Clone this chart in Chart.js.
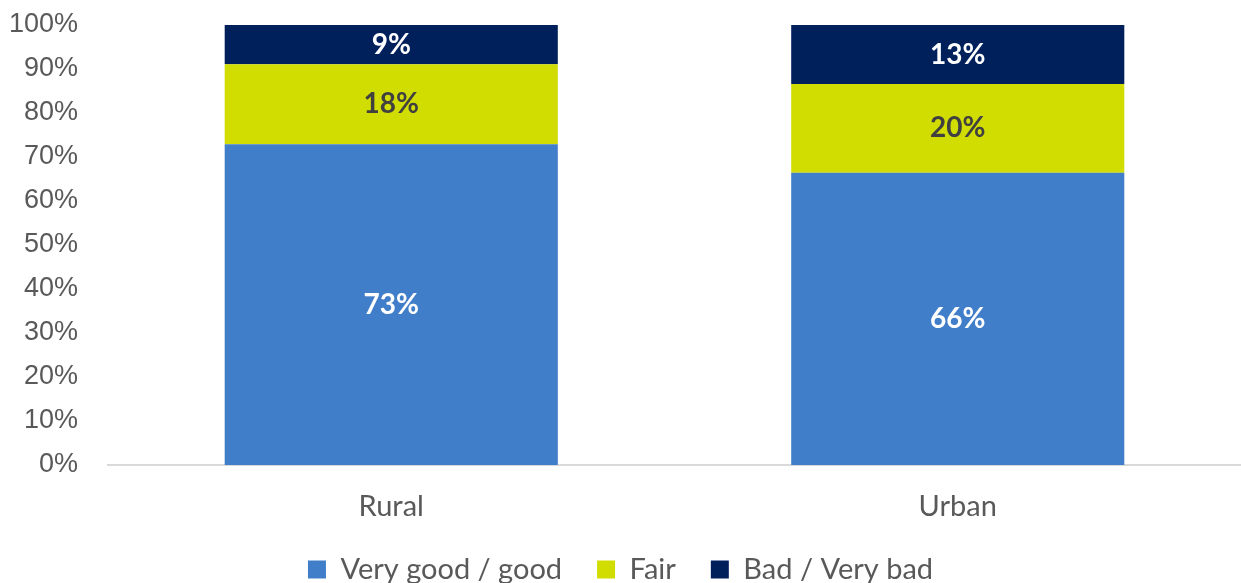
<!DOCTYPE html>
<html>
<head>
<meta charset="utf-8">
<script src="https://cdn.jsdelivr.net/npm/chart.js@4/dist/chart.umd.min.js"></script>
<style>
  html, body { margin: 0; padding: 0; background: #fff; }
  #wrap { width: 1241px; height: 583px; }
</style>
</head>
<body>
<div id="wrap"><canvas id="chart"></canvas></div>
<script>
// categories and shares (%)
const areas = ['Rural', 'Urban'];
const veryGood = [72.9, 66.4];
const fair = [18.2, 20.2];
const bad = [8.9, 13.4];

const seriesNames = ['Very good / good', 'Fair', 'Bad / Very bad'];
const yTicks = [0, 10, 20, 30, 40, 50, 60, 70, 80, 90, 100];

// draw the rounded % in the middle of each segment
const segmentLabels = {
    id: 'segmentLabels',
    afterDatasetsDraw(chart) {
        const ctx = chart.ctx;
        ctx.save();
        ctx.font = 'bold 28px Lato, "Open Sans", sans-serif';
        ctx.textAlign = 'center';
        ctx.textBaseline = 'middle';
        chart.data.datasets.forEach((ds, i) => {
            const meta = chart.getDatasetMeta(i);
            meta.data.forEach((bar, j) => {
                ctx.fillStyle = ds.labelColor;
                const y = (bar.y + bar.base) / 2;
                ctx.fillText(Math.round(ds.data[j]) + '%', bar.x, y);
            });
        });
        ctx.restore();
    }
};

new Chart(document.getElementById('chart').getContext('2d'), {
    type: 'bar',
    data: {
        labels: areas,
        datasets: [
            { label: seriesNames[0], data: veryGood, backgroundColor: '#417EC9', labelColor: '#ffffff' },
            { label: seriesNames[1], data: fair, backgroundColor: '#D1DD00', labelColor: '#404040' },
            { label: seriesNames[2], data: bad, backgroundColor: '#00205C', labelColor: '#ffffff' },
        ],
    },
    options: {
        responsive: true,
        maintainAspectRatio: false,
        animation: false,
        layout: { padding: { top: 25, right: 0, bottom: -11, left: 0 } },
        datasets: { bar: { barPercentage: 0.588, categoryPercentage: 1 } },
        scales: {
            x: {
                stacked: true,
                grid: { display: false, drawTicks: false },
                border: { display: true, color: '#D9D9D9', width: 2 },
                ticks: {
                    color: '#595959',
                    font: { family: 'Lato, "Open Sans", sans-serif', size: 29 },
                    padding: 24,
                },
                afterFit(scale) { scale.height = 55; },
            },
            y: {
                stacked: true,
                min: 0,
                max: 100,
                afterBuildTicks(scale) { scale.ticks = yTicks.map(v => ({ value: v })); },
                grid: { display: false, drawTicks: false },
                border: { display: false },
                ticks: {
                    color: '#595959',
                    font: { family: '"Liberation Sans", Arial, sans-serif', size: 27 },
                    padding: 30,
                    callback: v => v + '%',
                },
                afterFit(scale) {
                    scale.width = 108;
                    scale.paddingTop = 0;
                    scale.paddingBottom = 0;
                },
            },
        },
        plugins: {
            legend: {
                position: 'bottom',
                labels: {
                    color: '#595959',
                    font: { family: 'Lato, "Open Sans", sans-serif', size: 29 },
                    boxWidth: 18,
                    boxHeight: 18,
                    padding: 35,
                },
            },
            tooltip: { enabled: false },
        },
    },
    plugins: [segmentLabels],
});
</script>
</body>
</html>
